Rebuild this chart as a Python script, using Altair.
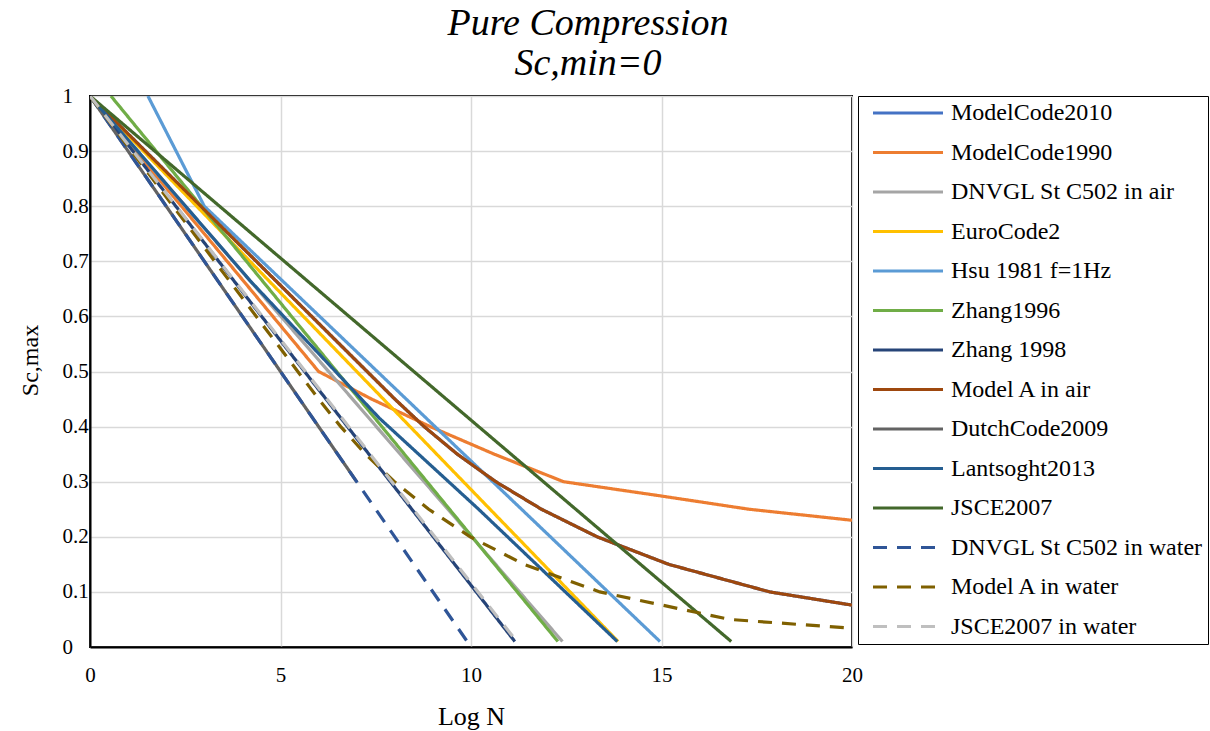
import altair as alt
import pandas as pd

series = ["ModelCode2010", "ModelCode1990", "DNVGL St C502 in air", "EuroCode2",
          "Hsu 1981 f=1Hz", "Zhang1996", "Zhang 1998", "Model A in air",
          "DutchCode2009", "Lantsoght2013", "JSCE2007", "DNVGL St C502 in water",
          "Model A in water", "JSCE2007 in water"]
colors = ["#4472C4", "#ED7D31", "#A5A5A5", "#FFC000", "#5B9BD5", "#70AD47", "#264478",
          "#9E480E", "#636363", "#255E91", "#43682B", "#2F5597", "#7F6000", "#BFBFBF"]
dashes = [[1, 0]] * 11 + [[14, 10]] * 3

x_mc2010 = [0, 8, 8.77, 9.64, 10.65, 11.85, 13.31, 15.19, 17.84, 20]
y_mc2010 = [1, 0.45, 0.40, 0.35, 0.30, 0.25, 0.20, 0.15, 0.10, 0.076]
x_mc1990 = [0, 6, 7.39, 8.93, 10.61, 12.43, 14.9, 17.3, 20]
y_mc1990 = [1, 0.5, 0.45, 0.40, 0.35, 0.30, 0.275, 0.25, 0.23]
x_dnv_air = [0, 12.4]
y_dnv_air = [1, 0.01]
x_ec2 = [0, 13.86]
y_ec2 = [1, 0.01]
x_hsu = [1.52, 3.0, 14.96]
y_hsu = [1, 0.80, 0.01]
x_zh96 = [0.55, 12.28]
y_zh96 = [1, 0.01]
x_zh98 = [0, 11.15]
y_zh98 = [1, 0.01]
x_ma_air = [0, 8, 8.77, 9.64, 10.65, 11.85, 13.31, 15.19, 17.84, 20]
y_ma_air = [1, 0.45, 0.40, 0.35, 0.30, 0.25, 0.20, 0.15, 0.10, 0.076]
x_dutch = [0, 7]
y_dutch = [1, 0.3]
x_lant = [0, 4.2, 7.6, 10.2, 13.84]
y_lant = [1, 0.665, 0.415, 0.25, 0.01]
x_jsce = [0, 16.83]
y_jsce = [1, 0.01]
x_dnv_w = [0, 9.93]
y_dnv_w = [1, 0.007]
x_ma_w = [0, 6, 6.58, 7.23, 7.99, 8.89, 9.98, 11.39, 13.38, 16.79, 20]
y_ma_w = [1, 0.45, 0.40, 0.35, 0.30, 0.25, 0.20, 0.15, 0.10, 0.05, 0.034]
x_jsce_w = [0, 11.2]
y_jsce_w = [1, 0.01]

all_x = [x_mc2010, x_mc1990, x_dnv_air, x_ec2, x_hsu, x_zh96, x_zh98, x_ma_air,
         x_dutch, x_lant, x_jsce, x_dnv_w, x_ma_w, x_jsce_w]
all_y = [y_mc2010, y_mc1990, y_dnv_air, y_ec2, y_hsu, y_zh96, y_zh98, y_ma_air,
         y_dutch, y_lant, y_jsce, y_dnv_w, y_ma_w, y_jsce_w]

rows = []
for name, xs, ys in zip(series, all_x, all_y):
    for i, (x, y) in enumerate(zip(xs, ys)):
        rows.append({"series": name, "logN": x, "S": y, "order": i})
df = pd.DataFrame(rows)

FONT = "Liberation Serif"

legend = alt.Legend(
    title=None, orient="none", legendX=768, legendY=0,
    strokeColor="black", fillColor="white", padding=5,
    symbolType="stroke", symbolSize=4900, symbolStrokeWidth=3.2,
    symbolOffset=8, labelOffset=6, clipHeight=24,
    labelFont=FONT, labelFontSize=24, labelColor="black", labelLimit=400,
    rowPadding=15.5,
)

base = alt.Chart(df).mark_line(strokeWidth=3.2, clip=True).encode(
    x=alt.X("logN:Q", scale=alt.Scale(domain=[0, 20], nice=False),
            axis=alt.Axis(values=[0, 5, 10, 15, 20], title="Log N", titleX=381, titleY=69,
                          titleBaseline="middle", titleFontSize=26, labelPadding=17,
                          labelFlush=False)),
    y=alt.Y("S:Q", scale=alt.Scale(domain=[0, 1], nice=False),
            axis=alt.Axis(values=[0, 0.1, 0.2, 0.3, 0.4, 0.5, 0.6, 0.7, 0.8, 0.9, 1],
                          format="~g", title="Sc,max", titleX=-60, titleY=264, titleAngle=270,
                          titleAlign="center", titleBaseline="middle", labelPadding=28,
                          labelAlign="left", labelFlush=False)),
    color=alt.Color("series:N", scale=alt.Scale(domain=series, range=colors), sort=series, legend=legend),
    strokeDash=alt.StrokeDash("series:N", scale=alt.Scale(domain=series, range=dashes), sort=series, legend=legend),
    order="order:Q",
)

layers = [base.transform_filter(alt.datum.series == s) for s in series]

chart = alt.layer(*layers).properties(
    width=762, height=551,
    title=alt.TitleParams(["Pure Compression", "Sc,min=0"], font=FONT, fontStyle="italic",
                          fontWeight="normal", fontSize=38, lineHeight=40, color="black",
                          anchor="middle", frame="group", dx=117, offset=2),
    padding={"left": 90, "top": 96, "right": 358, "bottom": 84},
    autosize=alt.AutoSizeParams(type="none"),
).configure_view(
    stroke="black", strokeWidth=2
).configure_axis(
    labelFont=FONT, titleFont=FONT, labelFontSize=21, titleFontSize=24,
    labelColor="black", titleColor="black", titleFontWeight="normal",
    gridColor="#D9D9D9", gridWidth=1.5, domainColor="black", domainWidth=2,
    ticks=False,
)

chart.save("out.html", embed_options={"renderer": "svg", "actions": False})
